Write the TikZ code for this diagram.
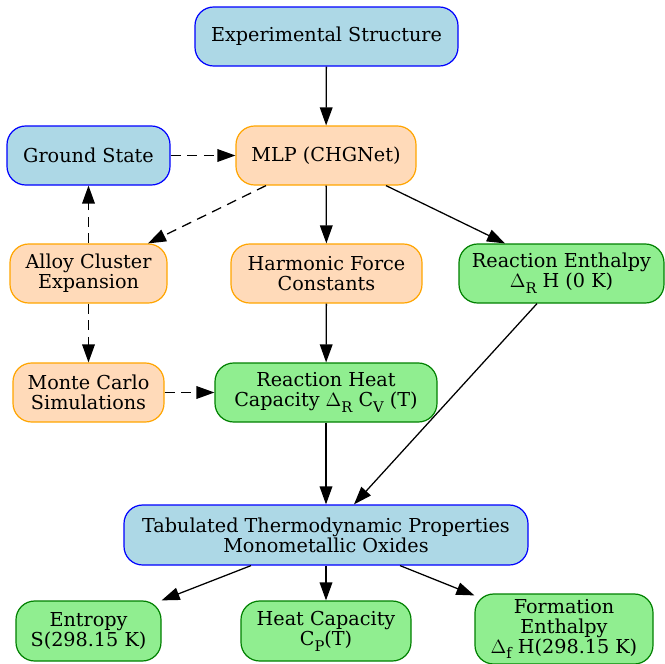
\documentclass[tikz,border=0pt]{standalone}
\usepackage{fontspec}
\setmainfont{DejaVu Serif}
\usetikzlibrary{arrows.meta,calc}
\definecolor{lblue}{HTML}{ADD8E6}
\definecolor{peach}{HTML}{FFDAB9}
\definecolor{lgreen}{HTML}{90EE90}
\definecolor{dgreen}{HTML}{008000}
\definecolor{orng}{HTML}{FFA500}
\newcommand{\lowsub}[1]{\raisebox{-0.3em}{\fontsize{11pt}{11pt}\selectfont #1}}
\begin{document}
\begin{tikzpicture}[x=0.75pt,y=-0.75pt,
  box/.style={rounded corners=14pt,line width=0.9pt,align=center,inner sep=0pt,
    font=\fontsize{14.4pt}{15pt}\selectfont},
  bluebox/.style={box,draw=blue,fill=lblue},
  peachbox/.style={box,draw=orng,fill=peach},
  greenbox/.style={box,draw=dgreen,fill=lgreen},
  edge/.style={line width=0.95pt,-{Triangle[length=13.5pt,width=9.5pt]}},
  dedge/.style={edge,dash pattern=on 7.5pt off 5pt}]
\useasboundingbox (0,0) rectangle (665,664);
\node[bluebox,minimum width=197.25pt,minimum height=44.25pt] (exp) at (326.5,36.5) {Experimental Structure};
\node[bluebox,minimum width=122.25pt,minimum height=44.25pt] (gs) at (88.5,155.5) {Ground State};
\node[peachbox,minimum width=135pt,minimum height=44.25pt] (mlp) at (326,155.5) {MLP (CHGNet)};
\node[peachbox,minimum width=117.75pt,minimum height=44.25pt] (ace) at (88.5,273.5) {Alloy Cluster\\Expansion};
\node[peachbox,minimum width=143.25pt,minimum height=44.25pt] (hfc) at (326.5,273.5) {Harmonic Force\\Constants};
\node[greenbox,minimum width=153.75pt,minimum height=44.25pt] (re) at (561.5,273.5) {Reaction Enthalpy\\$\Delta$\lowsub{R} H (0 K)};
\node[peachbox,minimum width=113.25pt,minimum height=44.25pt] (mc) at (88.5,392.5) {Monte Carlo\\Simulations};
\node[greenbox,minimum width=166.5pt,minimum height=44.25pt] (rhc) at (326,392.5) {Reaction Heat\\Capacity $\Delta$\lowsub{R} C\lowsub{V} (T)};
\node[bluebox,minimum width=303pt,minimum height=45pt] (tab) at (326,535) {Tabulated Thermodynamic Properties\\Monometallic Oxides};
\node[greenbox,minimum width=108.75pt,minimum height=45pt] (ent) at (88.5,631) {Entropy\\S(298.15 K)};
\node[greenbox,minimum width=127.5pt,minimum height=45pt] (hc) at (326,631) {Heat Capacity\\C\lowsub{P}(T)};
\node[greenbox,minimum width=133.5pt,minimum height=52.5pt] (fe) at (564,629) {Formation\\Enthalpy\\$\Delta$\lowsub{f} H(298.15 K)};
\draw[edge] (exp) -- (mlp);
\draw[dedge] (gs) -- (mlp);
\draw[dedge] ($(mlp.south)+(-60,0)$) -- ($(ace.north)+(59.5,0)$);
\draw[edge] (mlp) -- (hfc);
\draw[edge] ($(mlp.south)+(60,0)$) -- ($(re.north)+(-56.5,0)$);
\draw[dedge] (ace) -- (gs);
\draw[dedge] (ace) -- (mc);
\draw[dedge] (mc) -- (rhc);
\draw[edge] (hfc) -- (rhc);
\draw[edge] (rhc) -- (tab);
\draw[edge] ($(re.south)+(-24.5,0)$) -- ($(tab.north)+(28,0)$);
\draw[edge] ($(tab.south)+(-75,0)$) -- ($(ent.north east)+(0,0)$);
\draw[edge] (tab) -- (hc);
\draw[edge] ($(tab.south)+(74,0)$) -- ($(fe.north west)+(0,2)$);
\end{tikzpicture}
\end{document}
